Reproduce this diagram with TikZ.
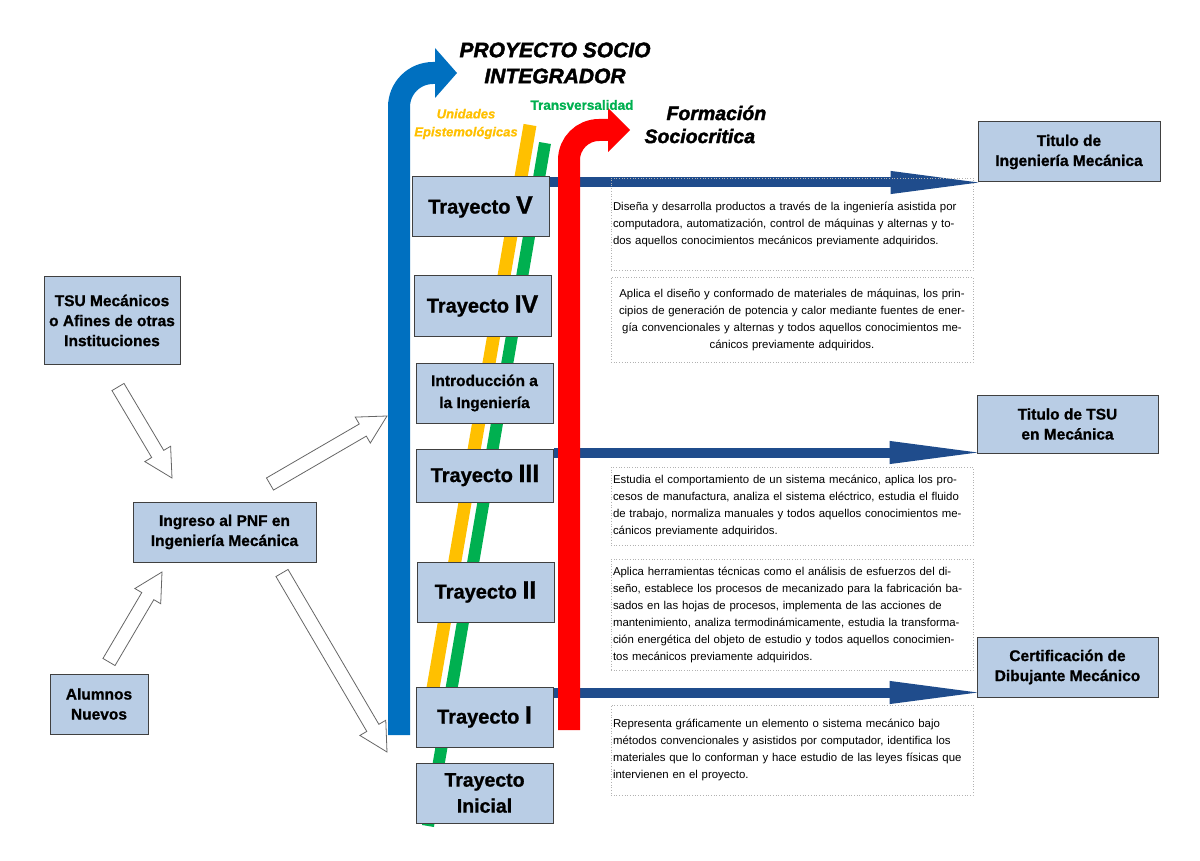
\documentclass[tikz,border=0pt]{standalone}
\usepackage{fontspec}
\setmainfont{Liberation Sans}
\newfontfamily\heavyfont[FakeBold=1]{Liberation Sans}
\newfontfamily\blackfont[FakeBold=2]{Liberation Sans}
\usetikzlibrary{arrows.meta,calc}
\definecolor{boxblue}{RGB}{185,205,229}
\definecolor{boxline}{RGB}{64,64,64}
\definecolor{psiblue}{RGB}{0,112,192}
\definecolor{lineblue}{RGB}{31,76,140}
\definecolor{epiyellow}{RGB}{255,192,0}
\definecolor{transgreen}{RGB}{0,176,80}
\tikzstyle{hollow}=[draw=black!60, fill=white, line width=0.8pt, line join=miter]
\newcommand{\romn}[1]{{\fontsize{25}{25}\selectfont #1}}
\newcommand{\hollowarrow}[2]{%
  \coordinate (hb) at ($(#2)!28pt!(#1)$);
  \draw[hollow] ($(#1)!7pt!90:(#2)$) -- ($(hb)!7pt!90:(#2)$) -- ($(hb)!15pt!90:(#2)$) -- (#2)
    -- ($(hb)!15pt!-90:(#2)$) -- ($(hb)!7pt!-90:(#2)$) -- ($(#1)!7pt!-90:(#2)$) -- cycle;}

\begin{document}
\begin{tikzpicture}
      [x=1pt, y=-1pt,
      tray/.style={rectangle, draw=boxline, fill=boxblue, line width=1pt, inner sep=2pt,
        minimum width=137pt, minimum height=60pt, align=center,
        font=\heavyfont\fontsize{20}{22}\selectfont\bfseries},
      entry/.style={rectangle, draw=boxline, fill=boxblue, line width=1pt, inner sep=2pt,
        minimum height=60pt, align=center, font=\heavyfont\fontsize{15.5}{20}\selectfont\bfseries},
      desc/.style={rectangle, draw=gray!60, dotted, line width=0.7pt, text width=358pt,
        inner xsep=2pt, inner ysep=0pt, align=left, font=\fontsize{11.4}{17}\selectfont},
      flow/.style={lineblue, line width=10pt, shorten >=-13pt,
        -{Triangle[length=100pt, width=20pt]}}]
      \useasboundingbox (0,0) rectangle (1200,861);
      % Bars behind the trayectos
      \draw [line width=13pt, epiyellow] (530,125) -- (431,700);
      \draw [line width=12pt, transgreen] (545,143) -- (428,826);
      \fill [psiblue] (435,48) -- (457,73) -- (435,98) -- cycle;
      \draw [psiblue, line width=22pt, rounded corners=34pt] (399,735) -- (399,73) -- (437,73);
      % Place nodes
      \node [tray] (t5) at (480.5,207) {Trayecto \romn{V}};
      \node [tray] (t4) at (482.5,306) {Trayecto \romn{IV}};
      \node [tray, font=\heavyfont\fontsize{15.5}{22}\selectfont\bfseries] (intro) at (484.5,393)
        {Introducción a\\la Ingeniería};
      \node [tray, minimum height=53pt] (t3) at (485,475.5) {Trayecto \romn{III}};
      \node [tray] (t2) at (485.5,592) {Trayecto \romn{II}};
      \node [tray] (t1) at (484.5,717) {Trayecto \romn{I}};
      \node [tray, font=\heavyfont\fontsize{19.5}{26}\selectfont\bfseries] (t0) at (484.5,793)
        {Trayecto\\Inicial};
      \node [entry, minimum width=136pt, minimum height=87pt] (tsum) at (112,320.5)
        {TSU Mecánicos\\o Afines de otras\\Instituciones};
      \node [entry, minimum width=183pt] (pnf) at (224.5,532) {Ingreso al PNF en\\Ingeniería Mecánica};
      \node [entry, minimum width=98pt] (nuevos) at (99,704) {Alumnos\\Nuevos};
      \node [entry, minimum width=182pt] (ting) at (1069,152) {Titulo de\\Ingeniería Mecánica};
      \node [entry, minimum width=181pt, minimum height=58pt] (ttsu) at (1067.5,424) {Titulo de TSU\\en Mecánica};
      \node [entry, minimum width=181pt] (cert) at (1067.5,667) {Certificación de\\Dibujante Mecánico};
      % Draw edges
      \draw [flow] ([yshift=-6pt]t5.north east) -- ([yshift=-6pt]t5.north east -| ting.west);
      \draw [flow] ([yshift=-4pt]t3.north east) -- ([yshift=-4pt]t3.north east -| ttsu.west);
      \draw [flow] ([yshift=-6pt]t1.north east) -- ([yshift=-6pt]t1.north east -| cert.west);
      \fill [red] (608,108) -- (630,130) -- (608,152) -- cycle;
      \draw [red, line width=22pt, rounded corners=30pt] (569,730) -- (569,130) -- (610,130);
      \coordinate (a1) at (118,387); \coordinate (b1) at (172,478);
      \coordinate (a2) at (109,662); \coordinate (b2) at (162,572);
      \coordinate (a3) at (270,484); \coordinate (b3) at (387,416);
      \coordinate (a4) at (282,573); \coordinate (b4) at (387,752);
      \hollowarrow{a1}{b1}
      \hollowarrow{a2}{b2}
      \hollowarrow{a3}{b3}
      \hollowarrow{a4}{b4}
      % Descriptions
      \node [desc, minimum height=92pt] (d5) at (792,224)
        {Diseña y desarrolla productos a través de la ingeniería asistida por\\
         computadora, automatización, control de máquinas y alternas y to-\\
         dos aquellos conocimientos mecánicos previamente adquiridos.};
      \node [desc, align=center, minimum height=85pt] (d4) at (792,319.5)
        {Aplica el diseño y conformado de materiales de máquinas, los prin-\\
         cipios de generación de potencia y calor mediante fuentes de ener-\\
         gía convencionales y alternas y todos aquellos conocimientos me-\\
         cánicos previamente adquiridos.};
      \node [desc, minimum height=78pt] (d3) at (792,506)
        {Estudia el comportamiento de un sistema mecánico, aplica los pro-\\
         cesos de manufactura, analiza el sistema eléctrico, estudia el fluido\\
         de trabajo, normaliza manuales y todos aquellos conocimientos me-\\
         cánicos previamente adquiridos.};
      \node [desc, minimum height=111pt] (d2) at (792,614.5)
        {Aplica herramientas técnicas como el análisis de esfuerzos del di-\\
         seño, establece los procesos de mecanizado para la fabricación ba-\\
         sados en las hojas de procesos, implementa de las acciones de\\
         mantenimiento, analiza termodinámicamente, estudia la transforma-\\
         ción energética del objeto de estudio y todos aquellos conocimien-\\
         tos mecánicos previamente adquiridos.};
      \node [desc, minimum height=90pt] (d1) at (792,750)
        {Representa gráficamente un elemento o sistema mecánico bajo\\
         métodos convencionales y asistidos por computador, identifica los\\
         materiales que lo conforman y hace estudio de las leyes físicas que\\
         intervienen en el proyecto.};
      % Titles
      \node [align=center, font=\blackfont\fontsize{21}{26}\selectfont\bfseries\itshape] (psi) at (555,63)
        {PROYECTO SOCIO\\INTEGRADOR};
      \node [anchor=west, align=left, font=\blackfont\fontsize{19.5}{23}\selectfont\bfseries\itshape] (socio) at (641,124.5)
        {\hspace{22pt}Formación\\Sociocritica};
      \node [align=center, text=epiyellow, font=\heavyfont\fontsize{13}{18}\selectfont\bfseries\itshape] (epis) at (466,124)
        {Unidades\\Epistemológicas};
      \node [text=transgreen, font=\heavyfont\fontsize{13.5}{16}\selectfont\bfseries] (trans) at (582,105) {Transversalidad};
    \end{tikzpicture}
\end{document}
